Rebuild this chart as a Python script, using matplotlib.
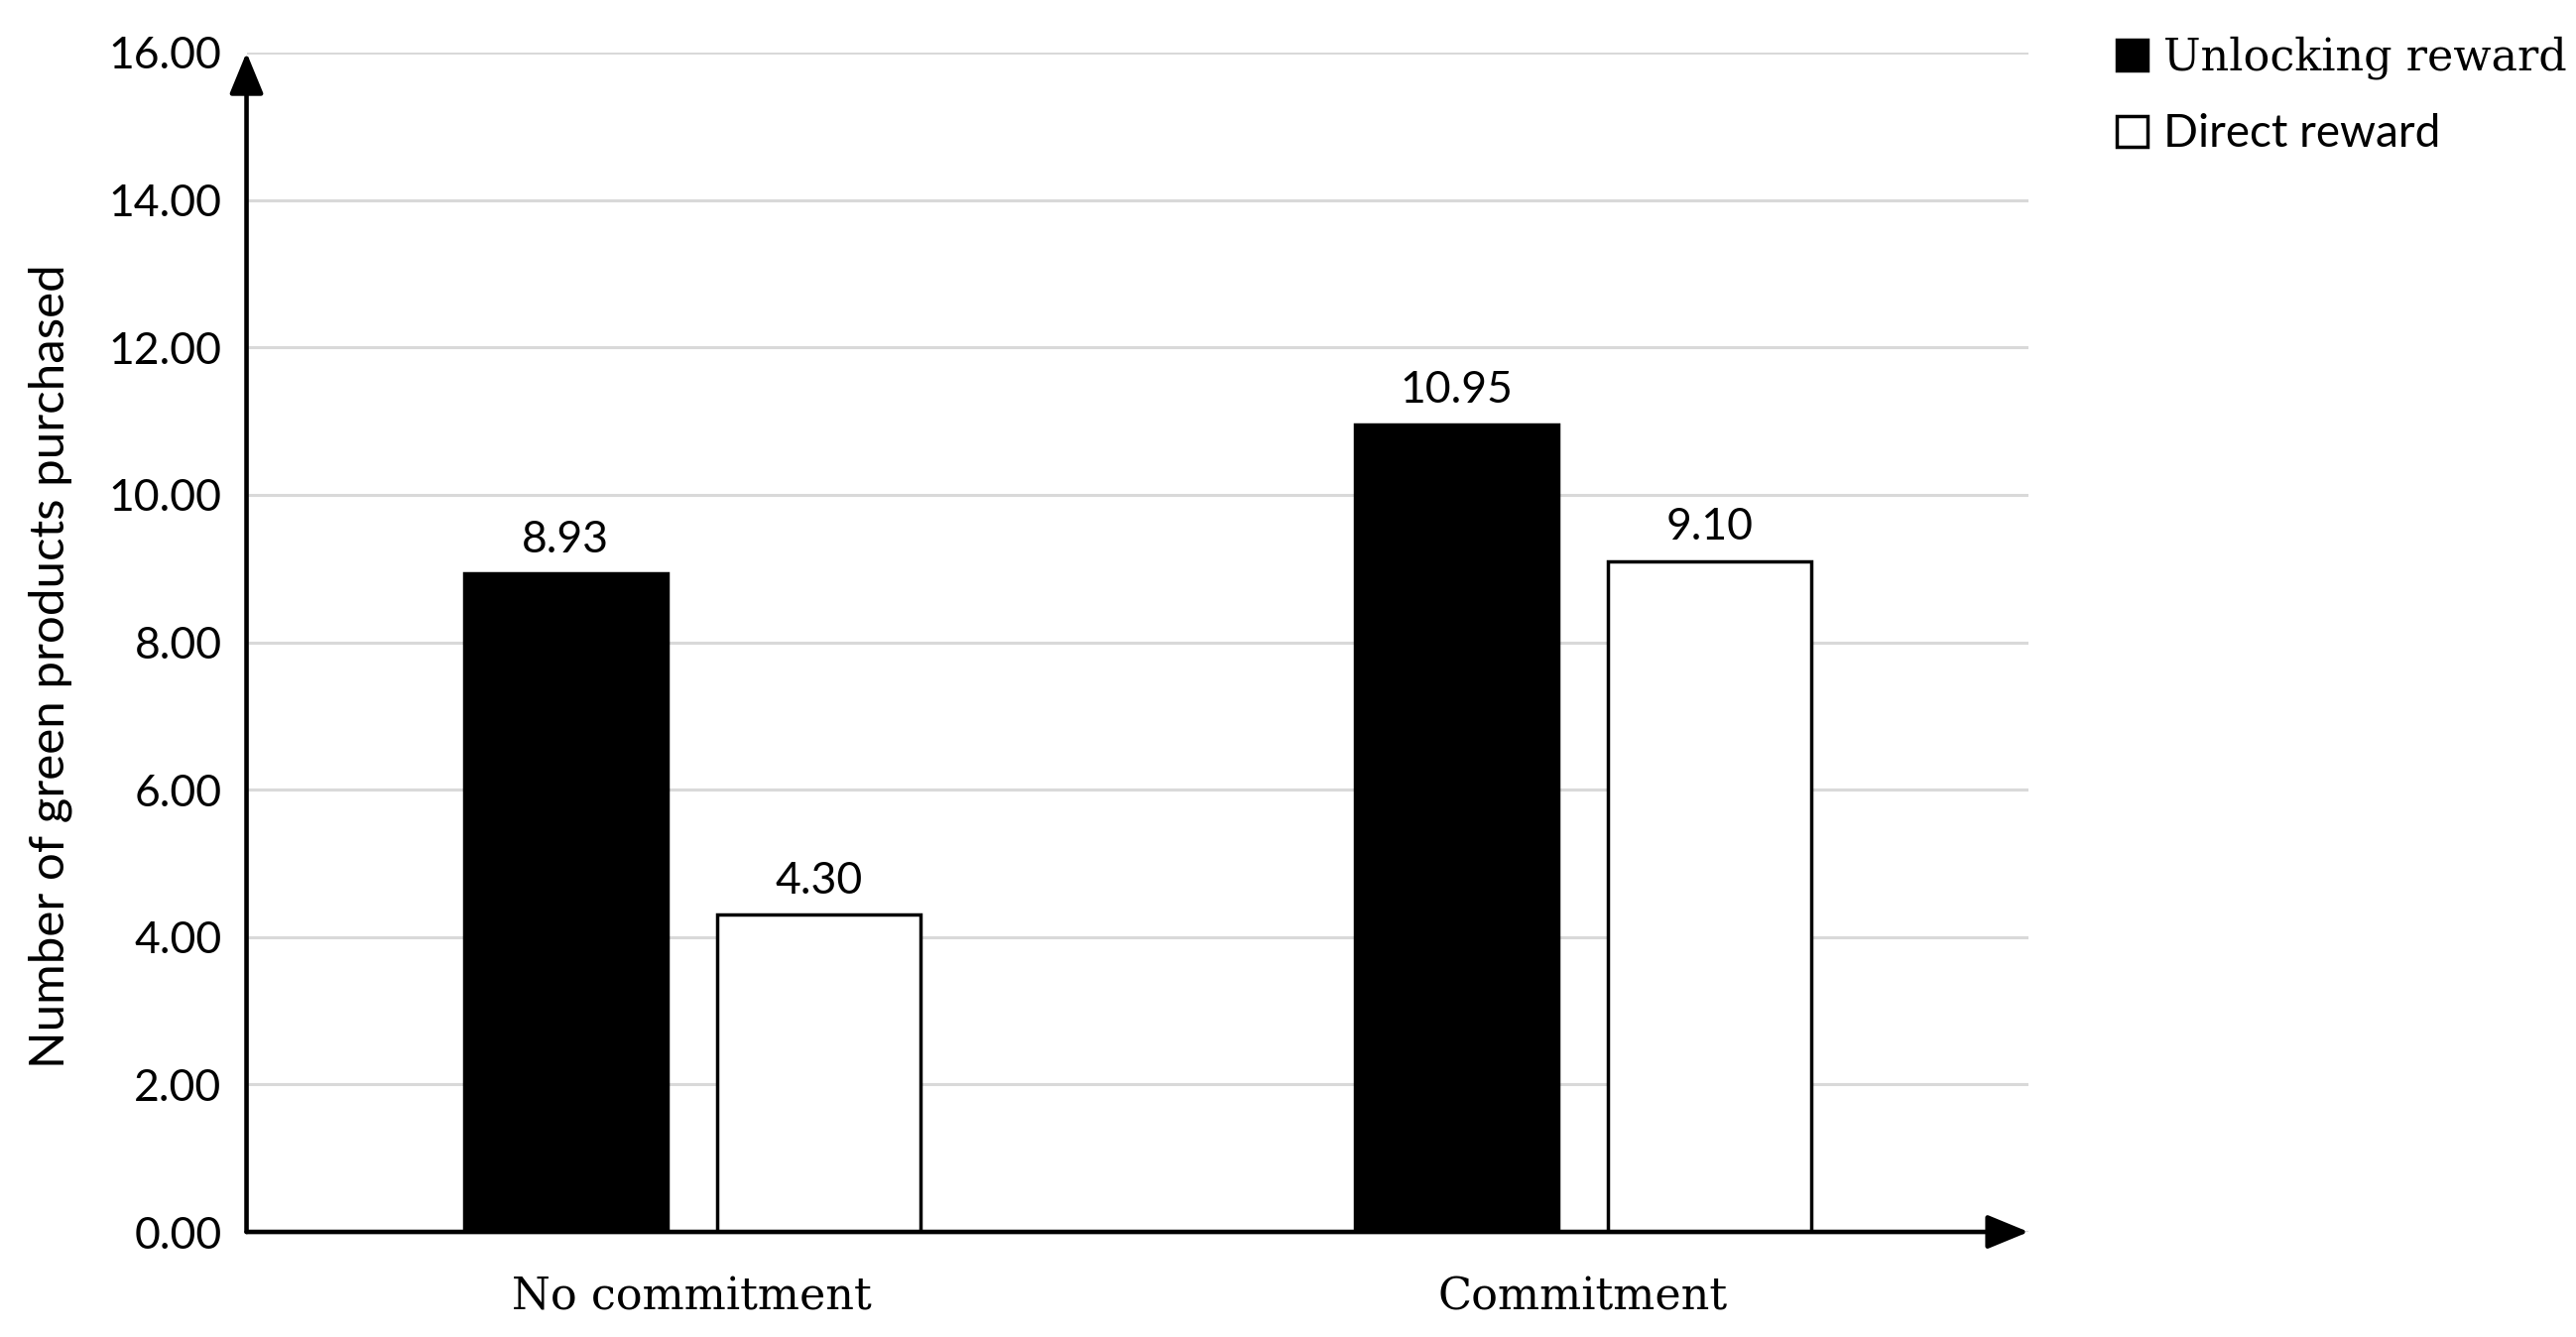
import matplotlib.pyplot as plt
import numpy as np
from matplotlib.patches import Patch

# chart data
categories = ['No commitment', 'Commitment']
series_names = ['Unlocking reward', 'Direct reward']
unlocking = [8.93, 10.95]
direct = [4.30, 9.10]
y_ticks = [0, 2, 4, 6, 8, 10, 12, 14, 16]

SANS = ['Lato', 'DejaVu Sans']
SERIF = ['DejaVu Serif']

fig = plt.figure(figsize=(25.97, 13.48), dpi=100)
ax = fig.add_axes([0.0957, 0.0786, 0.6918, 0.8821])

x = np.arange(len(categories))
width = 0.228
offset = 0.142

b1 = ax.bar(x - offset, unlocking, width, color='black', edgecolor='black', linewidth=2.5, zorder=3)
b2 = ax.bar(x + offset, direct, width, color='white', edgecolor='black', linewidth=2.5, zorder=3)

for bars, vals in [(b1, unlocking), (b2, direct)]:
    for rect, v in zip(bars, vals):
        ax.annotate(f'{v:.2f}', (rect.get_x() + rect.get_width() / 2, v),
                    xytext=(0, 10), textcoords='offset points',
                    ha='center', va='bottom', fontsize=32, family=SANS)

ax.set_xlim(-0.5, 1.5)
ax.set_ylim(0, 16)
ax.set_yticks(y_ticks)
ax.set_yticklabels([f'{t:.2f}' for t in y_ticks], family=SANS, fontsize=32)
ax.set_xticks(x)
ax.set_xticklabels(categories, family=SERIF, fontsize=32)
ax.tick_params(axis='both', length=0)
ax.tick_params(axis='y', pad=18)
ax.tick_params(axis='x', pad=32)

ax.yaxis.grid(True, color='#d9d9d9', linewidth=2.2, zorder=0)
ax.set_axisbelow(True)
for s in ax.spines.values():
    s.set_visible(False)

# axis arrows
arrow = dict(arrowstyle='-|>,head_width=0.35,head_length=0.85', color='black',
             linewidth=3.3, shrinkA=0, shrinkB=0, mutation_scale=30)
ax.annotate('', xy=(0, 1), xytext=(0, 0), xycoords='axes fraction',
            textcoords='axes fraction', arrowprops=arrow, annotation_clip=False)
ax.annotate('', xy=(1, 0), xytext=(0, 0), xycoords='axes fraction',
            textcoords='axes fraction', arrowprops=arrow, annotation_clip=False)

ax.set_ylabel('Number of green products purchased', family=SANS, fontsize=35.5, labelpad=26)
ax.yaxis.label.set_y(0.48)

handles = [Patch(facecolor='black', edgecolor='black', linewidth=2.5),
           Patch(facecolor='white', edgecolor='black', linewidth=2.5)]
leg = fig.legend(handles, series_names, loc='upper left', bbox_to_anchor=(0.815, 0.986),
                 frameon=False, fontsize=32, handlelength=0.7, handleheight=0.7,
                 handletextpad=0.35, labelspacing=0.75, borderaxespad=0)
leg.get_texts()[0].set_fontfamily(SERIF)
leg.get_texts()[1].set_fontfamily(SANS)
leg.get_texts()[1].set_fontsize(33)

fig.savefig('out.png', dpi=100)
